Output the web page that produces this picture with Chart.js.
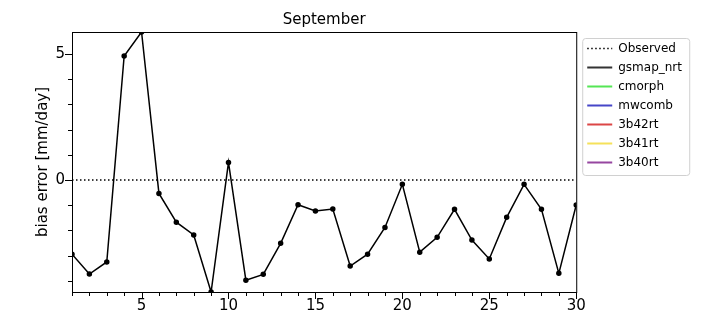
<!DOCTYPE html>
<html lang="en">
<head>
    <meta charset="UTF-8">
    <title>September bias error</title>
    <style>
        body { margin: 0; background: #fff; }
        #wrap { width: 720px; height: 324px; }
    </style>
</head>
<body>
    <div id="wrap"><canvas id="biasChart" width="720" height="324"></canvas></div>

    <script src="https://cdn.jsdelivr.net/npm/chart.js"></script>
<script>
    // Days of the month and the gsmap_nrt bias error
    const days = [1, 2, 3, 4, 5, 6, 7, 8, 9, 10, 11, 12, 13, 14, 15,
                  16, 17, 18, 19, 20, 21, 22, 23, 24, 25, 26, 27, 28, 29, 30];
    const gsmapNrt = [-2.94, -3.73, -3.25, 4.92, 5.87, -0.53, -1.67, -2.18, -4.44, 0.70,
                      -3.97, -3.74, -2.51, -0.98, -1.23, -1.15, -3.41, -2.94, -1.88, -0.17,
                      -2.86, -2.27, -1.16, -2.38, -3.13, -1.48, -0.17, -1.16, -3.70, -0.99];
    const observed = days.map(() => 0);
    const xMajorTicks = [5, 10, 15, 20, 25, 30];
    const yMajorTicks = [0, 5];
    const yMinorTicks = [-4, -3, -2, -1, 0, 1, 2, 3, 4, 5];

    const font = "'DejaVu Sans', sans-serif";

    // Frame around the plot area + minor tick marks + legend frame
    const framePlugin = {
        id: 'frame',
        afterLayout(chart) {
            // leave a small gap between the axes and the legend
            chart.legend.left += 4;
            chart.legend.right += 4;
        },
        afterDraw(chart) {
            const ctx = chart.ctx;
            const a = chart.chartArea;
            const xs = chart.scales.x, ys = chart.scales.y;
            ctx.save();
            ctx.strokeStyle = '#000';
            ctx.lineWidth = 1;
            ctx.strokeRect(a.left + 0.5, a.top + 0.5, a.right - a.left, a.bottom - a.top);
            ctx.beginPath();
            xs.ticks.forEach(t => {
                const len = xMajorTicks.includes(t.value) ? 7 : 4;
                const px = Math.round(xs.getPixelForValue(t.value)) + 0.5;
                ctx.moveTo(px, a.bottom);
                ctx.lineTo(px, a.bottom + len);
            });
            ys.ticks.forEach(t => {
                const len = yMajorTicks.includes(t.value) ? 7 : 4;
                const py = Math.round(ys.getPixelForValue(t.value)) + 0.5;
                ctx.moveTo(a.left, py);
                ctx.lineTo(a.left - len, py);
            });
            ctx.stroke();

            const lg = chart.legend;
            ctx.strokeStyle = '#d0d0d0';
            ctx.beginPath();
            ctx.roundRect(lg.left + 2.5, lg.top + 6.5, 107, 137, 3);
            ctx.stroke();
            ctx.restore();
        }
    };

    const ctx = document.getElementById('biasChart').getContext('2d');
    const biasChart = new Chart(ctx, {
        type: 'line',
        data: {
            labels: days,
            datasets: [
                { label: 'Observed', data: observed, borderColor: '#000', borderWidth: 1.5,
                  borderDash: [1.5, 2.5], pointRadius: 0 },
                { label: 'gsmap_nrt', data: gsmapNrt, borderColor: '#000', backgroundColor: '#000',
                  borderWidth: 1.5, pointRadius: 2, pointHoverRadius: 2 },
                { label: 'cmorph', data: [], borderColor: '#55e655', borderWidth: 2 },
                { label: 'mwcomb', data: [], borderColor: '#4646c8', borderWidth: 2 },
                { label: '3b42rt', data: [], borderColor: '#dc4646', borderWidth: 2 },
                { label: '3b41rt', data: [], borderColor: '#f5e15a', borderWidth: 2 },
                { label: '3b40rt', data: [], borderColor: '#9646a0', borderWidth: 2 }
            ]
        },
        options: {
            responsive: false,
            animation: false,
            layout: { padding: { right: 32 } },
            plugins: {
                tooltip: { enabled: false },
                title: {
                    display: true,
                    text: 'September',
                    fullSize: false,
                    color: '#000',
                    font: { family: font, size: 15, weight: 'normal' },
                    padding: { top: 11, bottom: 3 }
                },
                legend: {
                    position: 'right',
                    align: 'start',
                    fullSize: false,
                    title: { display: true, text: ' ', font: { size: 3 }, padding: 0 },
                    labels: {
                        usePointStyle: true,
                        pointStyle: 'line',
                        pointStyleWidth: 25,
                        padding: 7,
                        color: '#000',
                        font: { family: font, size: 12 },
                        generateLabels: chart => chart.data.datasets.map((ds, i) => ({
                            text: ds.label,
                            strokeStyle: i === 1 ? '#333' : ds.borderColor,
                            fillStyle: ds.borderColor,
                            fontColor: '#000',
                            lineWidth: i === 0 ? 1.5 : 2,
                            lineDash: ds.borderDash || [],
                            pointStyle: 'line',
                            hidden: false,
                            datasetIndex: i
                        }))
                    }
                }
            },
            scales: {
                x: {
                    type: 'linear',
                    min: 1,
                    max: 30,
                    afterBuildTicks: s => { s.ticks = days.map(v => ({ value: v })); },
                    afterFit: s => { s.height = 32; },
                    grid: { display: false, tickLength: 5 },
                    border: { display: false },
                    ticks: {
                        autoSkip: false,
                        maxRotation: 0,
                        padding: 0,
                        color: '#000',
                        font: { family: font, size: 15 },
                        callback: v => xMajorTicks.includes(v) ? String(v) : ''
                    }
                },
                y: {
                    min: -4.44,
                    max: 5.87,
                    afterBuildTicks: s => { s.ticks = yMinorTicks.map(v => ({ value: v })); },
                    afterFit: s => { s.width = 72; },
                    grid: { display: false, tickLength: 7 },
                    border: { display: false },
                    title: {
                        display: true,
                        text: 'bias error [mm/day]',
                        color: '#000',
                        font: { family: font, size: 15 },
                        padding: { top: 34 }
                    },
                    ticks: {
                        autoSkip: false,
                        padding: 0,
                        color: '#000',
                        font: { family: font, size: 15 },
                        callback: v => yMajorTicks.includes(v) ? String(v) : ''
                    }
                }
            }
        },
        plugins: [framePlugin]
    });
</script>
</body>
</html>
